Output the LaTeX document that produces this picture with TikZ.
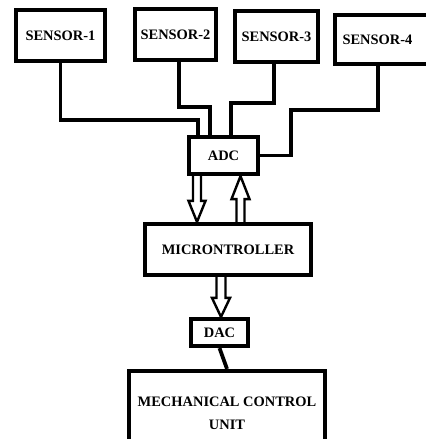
\documentclass[tikz,border=0pt]{standalone}
\usepackage{fontspec}
\setmainfont{Liberation Serif}
\usepackage{tikz}
\usetikzlibrary{calc, positioning}

\begin{document}
\begin{tikzpicture}[
    x=1bp, y=-1bp,
    box/.style={rectangle, draw=black, line width=4.2bp, fill=white, inner sep=0pt, align=center, font=\fontsize{14.5}{23}\selectfont\bfseries},
    wire/.style={draw=black, line width=3.8bp},
    harrow/.style={draw=black, fill=white, line width=2.4bp, line join=miter}
]
\useasboundingbox (0,0) rectangle (425,439);

% === Sensors ===
\node[box, minimum width=89bp, minimum height=51bp] (s1) at (60.5,35.5) {SENSOR-1};
\node[box, minimum width=81bp, minimum height=51bp] (s2) at (175.5,34.5) {SENSOR-2};
\node[box, minimum width=83bp, minimum height=51bp] (s3) at (276.5,36.5) {SENSOR-3};
\node[box, minimum width=97bp, minimum height=49bp, text width=82bp, align=left] (s4) at (383.5,39.5) {SENSOR-4};

% === Processing chain ===
\node[box, minimum width=69bp, minimum height=37bp] (adc) at (223.5,155.5) {ADC};
\node[box, minimum width=166bp, minimum height=51bp] (micro) at (228,249.5) {MICRONTROLLER};
\node[box, minimum width=57bp, minimum height=27bp] (dac) at (219.5,332.5) {DAC};
\node[box, minimum width=196bp, minimum height=84bp] (mcu) at (227,413) {MECHANICAL CONTROL\\UNIT};

% === Sensor wires into ADC ===
\draw[wire] (s1.south) -- ++(0,57) -| ([xshift=-25.5bp]adc.north);
\draw[wire] ([xshift=3.5bp]s2.south) -- ++(0,45) -| ([xshift=-13.5bp]adc.north);
\draw[wire] ([xshift=-2.5bp]s3.south) -- ++(0,39) -| ([xshift=7.5bp]adc.north);
\draw[wire] ([xshift=-5.5bp]s4.south) -- ++(0,44) -| ([xshift=31bp]adc.east) -- (adc.east);

% === Hollow data arrows ===
% ADC -> microcontroller
\draw[harrow] let \p1=([xshift=-26.5bp]adc.south), \p2=([xshift=-26.5bp]micro.north) in
    (\x1-4bp,\y1) -- (\x1-4bp,\y2+21bp) -- (\x1-8.5bp,\y2+21bp) -- (\x1,\y2)
    -- (\x1+8.5bp,\y2+21bp) -- (\x1+4bp,\y2+21bp) -- (\x1+4bp,\y1);
% microcontroller -> ADC
\draw[harrow] let \p1=([xshift=12.5bp]micro.north), \p2=([xshift=12.5bp]adc.south) in
    (\x1-4bp,\y1) -- (\x1-4bp,\y2-23bp) -- (\x1-9bp,\y2-23bp) -- (\x1,\y2)
    -- (\x1+9bp,\y2-23bp) -- (\x1+4bp,\y2-23bp) -- (\x1+4bp,\y1);
% microcontroller -> DAC
\draw[harrow] let \p1=([xshift=-7bp]micro.south), \p2=([xshift=-7bp]dac.north) in
    (\x1-4.5bp,\y1) -- (\x1-4.5bp,\y2+19bp) -- (\x1-9bp,\y2+19bp) -- (\x1,\y2)
    -- (\x1+9bp,\y2+19bp) -- (\x1+4.5bp,\y2+19bp) -- (\x1+4.5bp,\y1);

% === DAC to control unit ===
\draw[wire] (dac.south) -- (mcu.north);

\end{tikzpicture}
\end{document}
